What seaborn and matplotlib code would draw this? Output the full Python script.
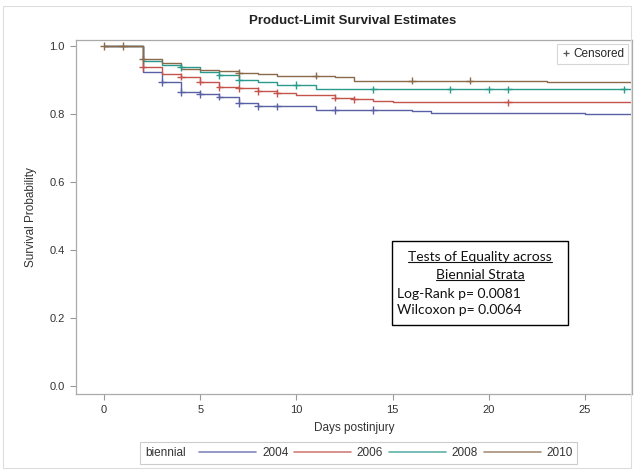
import numpy as np
import pandas as pd
import matplotlib
matplotlib.use("Agg")
import matplotlib.pyplot as plt
import seaborn as sns
from matplotlib.lines import Line2D
from matplotlib.patches import Rectangle

# step curves (day the step happens, survival after it)
years = ["2004", "2006", "2008", "2010"]
t_2004 = [0, 2, 3, 4, 5, 6, 7, 8, 11, 16, 17, 25, 27.4]
s_2004 = [1.0, 0.922, 0.893, 0.864, 0.858, 0.851, 0.833, 0.822, 0.812, 0.808, 0.803, 0.799, 0.799]
t_2006 = [0, 2, 3, 4, 5, 6, 7, 8, 9, 10, 12, 13, 14, 15, 27.4]
s_2006 = [1.0, 0.939, 0.917, 0.910, 0.895, 0.880, 0.876, 0.868, 0.861, 0.856, 0.848, 0.843, 0.838, 0.834, 0.834]
t_2008 = [0, 2, 3, 4, 5, 6, 7, 8, 9, 11, 27.4]
s_2008 = [1.0, 0.955, 0.944, 0.937, 0.922, 0.915, 0.900, 0.893, 0.885, 0.872, 0.872]
t_2010 = [0, 2, 3, 4, 5, 6, 7, 8, 9, 12, 13, 23, 27.4]
s_2010 = [1.0, 0.962, 0.949, 0.931, 0.928, 0.925, 0.921, 0.917, 0.913, 0.908, 0.898, 0.895, 0.895]

# censoring days per stratum
c_2004 = [3, 4, 5, 6, 7, 8, 9, 12, 14]
c_2006 = [2, 4, 5, 6, 7, 8, 9, 12, 13, 21]
c_2008 = [4, 6, 7, 10, 14, 18, 20, 21, 27]
c_2010 = [0, 1, 2, 7, 11, 16, 19]

colors = ["#5A60A6", "#C4534C", "#2A9A8C", "#8A6A4A"]

times = [t_2004, t_2006, t_2008, t_2010]
survs = [s_2004, s_2006, s_2008, s_2010]
cens = [c_2004, c_2006, c_2008, c_2010]

curve_rows = []
cens_rows = []
for yr, t, s, c in zip(years, times, survs, cens):
    for a, b in zip(t, s):
        curve_rows.append({"day": a, "surv": b, "biennial": yr})
    t = np.array(t)
    s = np.array(s)
    for d in c:
        idx = np.searchsorted(t, d, side="right") - 1
        cens_rows.append({"day": d, "surv": s[idx], "biennial": yr})
curves = pd.DataFrame(curve_rows)
censored = pd.DataFrame(cens_rows)

sns.set_theme(style="white")
plt.rcParams["font.family"] = ["Liberation Sans", "DejaVu Sans"]

fig = plt.figure(figsize=(6.34, 4.71), dpi=100)
ax = fig.add_axes([0.1199, 0.1635, 0.877, 0.7516])

palette = dict(zip(years, colors))
sns.lineplot(data=curves, x="day", y="surv", hue="biennial", palette=palette,
             drawstyle="steps-post", estimator=None, linewidth=1.0, ax=ax, legend=False)
sns.scatterplot(data=censored, x="day", y="surv", hue="biennial", palette=palette,
                marker="+", s=30, linewidth=1.0, ax=ax, legend=False, zorder=5)

ax.set_xlim(-1.455, 27.44)
ax.set_ylim(-0.0235, 1.0176)
ax.set_xticks([0, 5, 10, 15, 20, 25])
ax.set_yticks([0.0, 0.2, 0.4, 0.6, 0.8, 1.0])
ax.set_yticklabels(["0.0", "0.2", "0.4", "0.6", "0.8", "1.0"])
ax.tick_params(axis="both", direction="out", length=4, width=0.8, color="#999999",
               labelsize=8, labelcolor="#333333", pad=4, bottom=True, left=True)
for sp in ax.spines.values():
    sp.set_color("#aaaaaa")
    sp.set_linewidth(0.9)
ax.set_xlabel("Days postinjury", fontsize=8.5, color="#333333", labelpad=5)
ax.set_ylabel("Survival Probability", fontsize=8.5, color="#333333", labelpad=9)
fig.text(0.5565, 0.955, "Product-Limit Survival Estimates", ha="center", va="center",
         fontsize=9.5, fontweight="bold", color="#222222")

# censored legend
cens_handle = Line2D([], [], linestyle="none", marker="+", color="#555555",
                     markersize=5, markeredgewidth=0.9)
leg = ax.legend([cens_handle], ["Censored"], loc="upper right", fontsize=8.5,
                frameon=True, fancybox=False, borderpad=0.35, handletextpad=0.2,
                handlelength=0.8, borderaxespad=0.3)
leg.get_frame().set_edgecolor("#cccccc")
leg.get_frame().set_linewidth(0.8)

# tests box
box_font = dict(fontsize=10, color="#111111", family=["Lato", "DejaVu Sans"])
ax.add_patch(Rectangle((0.568, 0.196), 0.317, 0.237, transform=ax.transAxes,
                       fill=False, edgecolor="black", linewidth=1.0, zorder=6))
t1 = ax.text(0.7265, 0.387, "Tests of Equality across", transform=ax.transAxes,
             ha="center", va="center", **box_font)
t2 = ax.text(0.7265, 0.336, "Biennial Strata", transform=ax.transAxes,
             ha="center", va="center", **box_font)
ax.text(0.578, 0.282, "Log-Rank p= 0.0081", transform=ax.transAxes,
        ha="left", va="center", **box_font)
ax.text(0.578, 0.236, "Wilcoxon p= 0.0064", transform=ax.transAxes,
        ha="left", va="center", **box_font)
fig.canvas.draw()
r = fig.canvas.get_renderer()
inv = fig.transFigure.inverted()
for t in (t1, t2):
    bb = t.get_window_extent(r)
    (x0, y0), (x1, _) = inv.transform([(bb.x0, bb.y0 + 1), (bb.x1, bb.y0 + 1)])
    fig.add_artist(Line2D([x0, x1], [y0, y0], color="#111111", linewidth=0.8))

# bottom legend
fig.add_artist(Rectangle((0.2208, 0.0149), 0.6893, 0.0467, transform=fig.transFigure,
                         fill=False, edgecolor="#cccccc", linewidth=0.8))
fig.text(0.229, 0.0383, "biennial", ha="left", va="center", fontsize=8.5, color="#333333")
handles = [Line2D([], [], color=c, linewidth=1.2, alpha=0.75) for c in colors]
fig.legend(handles, years, loc="center", bbox_to_anchor=(0.609, 0.0383), ncol=4,
           frameon=False, fontsize=8.5, handlelength=4.8, handletextpad=0.5,
           columnspacing=0.5, labelcolor="#333333")

# outer border
fig.add_artist(Rectangle((0.004, 0.006), 0.992, 0.981, transform=fig.transFigure,
                         fill=False, edgecolor="#dddddd", linewidth=0.8))

fig.savefig("out.png", dpi=100)
